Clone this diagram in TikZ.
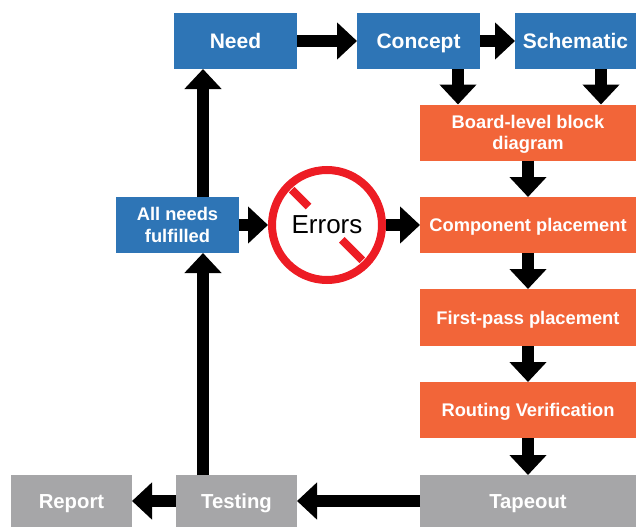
\documentclass[tikz,border=0pt]{standalone}
\usepackage{fontspec}
\setmainfont{Liberation Sans}
\usetikzlibrary{arrows.meta,calc}
\definecolor{bblue}{RGB}{46,117,182}
\definecolor{borange}{RGB}{242,101,57}
\definecolor{bgray}{RGB}{166,166,168}
\definecolor{bred}{RGB}{237,28,36}
\begin{document}
\begin{tikzpicture}[x=1pt,y=-1pt,
  box/.style={rectangle, inner sep=0pt, outer sep=0pt, text=white, align=center},
  bluebox/.style={box, fill=bblue, text height=15pt, text depth=0pt, font=\bfseries\fontsize{21}{23}\selectfont},
  orangebox/.style={box, fill=borange, minimum width=216pt, text height=13pt, text depth=0pt, font=\bfseries\fontsize{18.3}{21}\selectfont},
  graybox/.style={box, fill=bgray, minimum height=52pt, text height=14.5pt, text depth=0pt, font=\bfseries\fontsize{20.3}{23}\selectfont},
  arr/.style={line width=12pt, -{Triangle[length=20pt,width=36pt]}},
  slash/.style={draw=bred, line width=8pt, line cap=butt}
]
\useasboundingbox (0,0) rectangle (636,527);
% top row
\node[bluebox, minimum width=123pt, minimum height=56pt] (need) at (235.5,41) {Need};
\node[bluebox, minimum width=123pt, minimum height=56pt] (concept) at (418.5,41) {Concept};
\node[bluebox, minimum width=121pt, minimum height=56pt] (schematic) at (575.5,41) {Schematic};
% orange column
\node[orangebox, minimum height=56pt, text height=34pt, text depth=0pt] (board) at (528,132.5) {Board-level block\\diagram};
\node[orangebox, minimum height=56pt] (comp) at (528,225) {Component placement};
\node[orangebox, minimum height=57pt] (first) at (528,317.5) {First-pass placement};
\node[orangebox, minimum height=56pt] (routing) at (528,410) {Routing Verification};
% bottom row
\node[graybox, minimum width=216pt] (tapeout) at (528,501) {Tapeout};
\node[graybox, minimum width=121pt] (testing) at (236.5,501) {Testing};
\node[graybox, minimum width=121pt] (report) at (71.5,501) {Report};
% left
\node[box, fill=bblue, minimum width=123pt, minimum height=56pt, text height=35pt, text depth=0pt, font=\bfseries\fontsize{18.3}{22}\selectfont] (allneeds) at (177.5,225) {All needs\\fulfilled};
% errors
\node[circle, draw=bred, line width=8pt, minimum size=110pt, inner sep=0pt, font=\fontsize{26}{28}\selectfont] (errors) at (327,225) {Errors};
\draw[slash] ($(errors.center)+(225:26)$) -- ($(errors.center)+(225:50)$);
\draw[slash] ($(errors.center)+(45:21)$) -- ($(errors.center)+(45:50)$);
% connectors
\draw[arr] (need.east) -- (concept.west);
\draw[arr] (concept.east) -- (schematic.west);
\coordinate (cS) at ([xshift=39.5pt]concept.south);
\coordinate (sS) at ([xshift=25.5pt]schematic.south);
\draw[arr] (cS) -- (cS |- board.north);
\draw[arr] (sS) -- (sS |- board.north);
\draw[arr] (board.south) -- (comp.north);
\draw[arr] (comp.south) -- (first.north);
\draw[arr] (first.south) -- (routing.north);
\draw[arr] (routing.south) -- (tapeout.north);
\draw[arr] (tapeout.west) -- (testing.east);
\draw[arr] (testing.west) -- (report.east);
\coordinate (tN) at ([xshift=-33.5pt]testing.north);
\coordinate (aN) at ([xshift=25.5pt]allneeds.north);
\draw[arr] (tN) -- (tN |- allneeds.south);
\draw[arr] (aN) -- (aN |- need.south);
\draw[arr] (allneeds.east) -- (errors.west);
\draw[arr] (errors.east) -- (comp.west);
\end{tikzpicture}
\end{document}
